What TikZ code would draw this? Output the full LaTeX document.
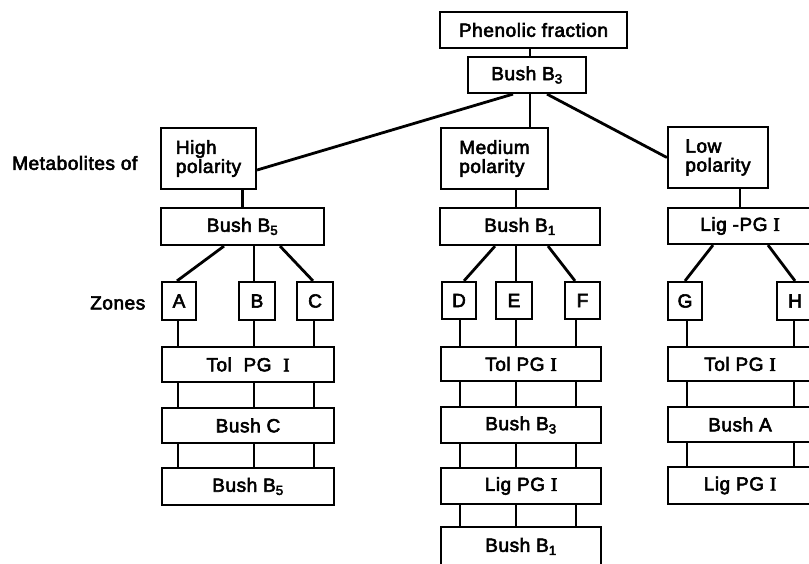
\documentclass[tikz,border=0pt]{standalone}
\usepackage{fontspec}
\setmainfont{Liberation Sans}
\newfontfamily\lab{Liberation Sans}[FakeBold=3, LetterSpace=3]
\newfontfamily\serI{Liberation Serif}[FakeBold=3]
\newcommand{\RI}{{\serI I}}
\begin{document}
\begin{tikzpicture}[x=1pt,y=-1pt,
  boxst/.style={draw, line width=2.2pt, inner sep=0pt, font=\lab\fontsize{19}{19}\selectfont, align=center},
  polst/.style={boxst, align=left},
  lbl/.style={inner sep=0pt, font=\lab\fontsize{19}{19}\selectfont, anchor=west},
  conn/.style={line width=2.8pt}]
\useasboundingbox (0,0) rectangle (809,563);
\clip (0,0) rectangle (809,563);
\fill[white] (0,0) rectangle (809,563);
\newcommand{\bx}[7][boxst]{\node[#1, minimum width={#4-#2}, minimum height={#5-#3}] (#7) at ({(#2+#4)/2},{(#3+#5)/2}) {#6};}
% top
\bx{440}{12}{627}{48}{Phenolic fraction}{phen}
\bx{468}{57}{586}{93}{Bush B\textsubscript{3}}{bbt}
% polarity
\bx[polst]{161}{128}{256}{189}{High\\polarity}{high}
\bx[polst]{441}{128}{548}{189}{Medium\\polarity}{med}
\bx[polst]{668}{127}{768}{188}{Low\\polarity}{low}
\node[lbl] (metab) at (12,163) {Metabolites of};
\node[lbl] (zones) at (90,303) {Zones};
% second level
\bx{161}{208}{324}{245}{Bush B\textsubscript{5}}{bfL}
\bx{440}{208}{600}{245}{Bush B\textsubscript{1}}{bfM}
\bx{668}{208}{812}{244}{Lig -PG \RI}{bfR}
% zones
\bx{162}{282}{196}{320}{A}{zA}
\bx{239}{282}{275}{320}{B}{zB}
\bx{297}{282}{333}{320}{C}{zC}
\bx{442}{282}{476}{319}{D}{zD}
\bx{496}{282}{532}{319}{E}{zE}
\bx{565}{282}{600}{319}{F}{zF}
\bx{668}{282}{702}{320}{G}{zG}
\bx{777}{282}{813}{320}{H}{zH}
% left column
\bx{162}{347}{334}{382}{Tol\ \ PG\ \ \RI}{tL}
\bx{162}{408}{334}{443}{Bush C}{cL}
\bx{162}{468}{334}{505}{Bush\ B\textsubscript{5}}{dL}
% middle column
\bx{441}{347}{601}{381}{Tol PG \RI}{tM}
\bx{441}{407}{601}{443}{Bush\ B\textsubscript{3}}{cM}
\bx{441}{468}{601}{504}{Lig PG \RI}{dM}
\bx{441}{527}{601}{566}{Bush\ B\textsubscript{1}}{eM}
% right column
\bx{668}{347}{812}{381}{Tol PG \RI}{tR}
\bx{668}{407}{812}{442}{Bush A}{cR}
\bx{668}{467}{812}{504}{Lig PG \RI}{dR}
% x positions
\coordinate (vM) at (530,0);
\coordinate (vE) at (516,0);
\coordinate (vB) at (254,0);
\coordinate (xA) at (178,0);
\coordinate (xB) at (254,0);
\coordinate (xC) at (314,0);
\coordinate (xD) at (460,0);
\coordinate (xE) at (516,0);
\coordinate (xF) at (576,0);
\coordinate (xG) at (687,0);
\coordinate (xH) at (794,0);
% top connectors
\draw[conn] (phen.south -| vM) -- (bbt.north -| vM);
\draw[conn] ([xshift=-14pt]bbt.south) -- ([yshift=-11.5pt]high.east);
\draw[conn] (bbt.south -| vM) -- (med.north -| vM);
\draw[conn] ([xshift=20pt]bbt.south) -- (low.west);
\draw[conn] (high.south -| bfL.north) -- (bfL.north);
\draw[conn] (med.south -| vE) -- (bfM.north -| vE);
\draw[conn] (low.south -| bfR.north) -- (bfR.north);
% to zones
\draw[conn] ([xshift=-18.5pt]bfL.south) -- ([xshift=-2pt]zA.north);
\draw[conn] (bfL.south -| vB) -- (zB.north -| vB);
\draw[conn] ([xshift=37.5pt]bfL.south) -- ([xshift=-2pt]zC.north);
\draw[conn] ([xshift=-25pt]bfM.south) -- ([xshift=5pt]zD.north);
\draw[conn] (bfM.south -| vE) -- (zE.north -| vE);
\draw[conn] ([xshift=28pt]bfM.south) -- ([xshift=-7.5pt]zF.north);
\draw[conn] ([xshift=-27pt]bfR.south) -- (zG.north);
\draw[conn] ([xshift=28pt]bfR.south) -- (zH.north);
% left column bars
\foreach \z/\x in {zA/xA, zB/xB, zC/xC}{
  \draw[conn] (\z.south -| \x) -- (tL.north -| \x);
  \draw[conn] (tL.south -| \x) -- (cL.north -| \x);
  \draw[conn] (cL.south -| \x) -- (dL.north -| \x);
}
% middle column bars
\foreach \z/\x in {zD/xD, zE/xE, zF/xF}{
  \draw[conn] (\z.south -| \x) -- (tM.north -| \x);
  \draw[conn] (tM.south -| \x) -- (cM.north -| \x);
  \draw[conn] (cM.south -| \x) -- (dM.north -| \x);
  \draw[conn] (dM.south -| \x) -- (eM.north -| \x);
}
% right column bars
\foreach \z/\x in {zG/xG, zH/xH}{
  \draw[conn] (\z.south -| \x) -- (tR.north -| \x);
  \draw[conn] (tR.south -| \x) -- (cR.north -| \x);
  \draw[conn] (cR.south -| \x) -- (dR.north -| \x);
}
\end{tikzpicture}
\end{document}
